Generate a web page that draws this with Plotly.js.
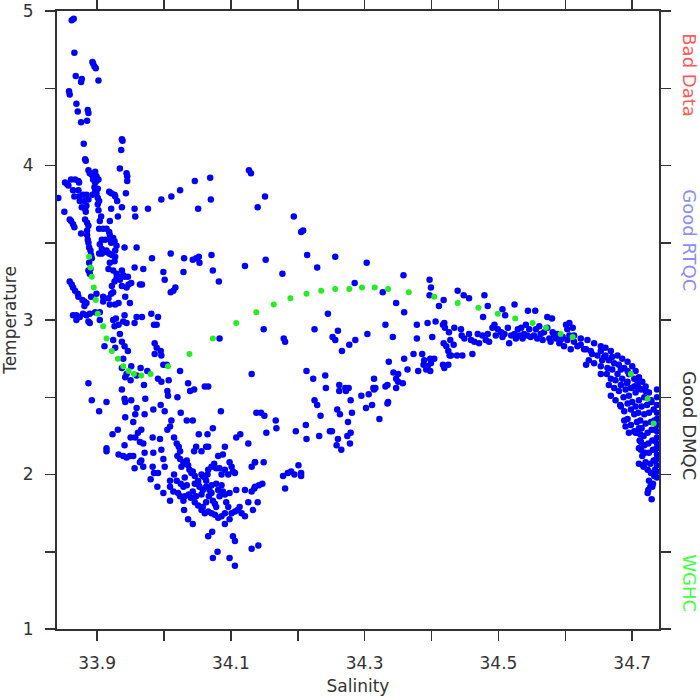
<!DOCTYPE html>
<html>
<head>
<meta charset="utf-8">
<script src="https://cdn.plot.ly/plotly-3.0.1.min.js"></script>
<style>html,body{margin:0;padding:0;background:#fff}#chart{width:700px;height:700px}</style>
</head>
<body>
<div id="chart"></div>
<script>
// ---- Data: [salinity, temperature] ----
const dmqcUpperLeft = [
[33.862,4.94],[33.865,4.95],[33.866,4.73],[33.893,4.67],[33.894,4.66],[33.896,4.64],[33.898,4.63],[33.868,4.58],[33.877,4.56],[33.876,4.54],[33.902,4.55],[33.858,4.48],[33.859,4.46],[33.869,4.40],[33.871,4.35],[33.886,4.36],[33.887,4.34],[33.885,4.29],[33.876,4.28],[33.880,4.14],[33.937,4.17],[33.938,4.16],[33.936,4.10],[33.882,4.04],[33.883,4.03],[33.934,3.98],[33.944,3.95],[33.945,3.93],[33.945,3.90],
[33.887,3.97],[33.889,3.95],[33.892,3.94],[33.897,3.96],[33.899,3.93],[33.894,3.91],[33.897,3.89],[33.899,3.90],[33.902,3.91],[33.896,3.86],[33.901,3.85],[33.897,3.83],[33.893,3.81],[33.899,3.82],
[33.842,3.79],[33.852,3.89],[33.855,3.88],[33.857,3.87],[33.861,3.91],[33.867,3.91],[33.872,3.90],[33.873,3.89],[33.864,3.84],[33.872,3.84],[33.866,3.80],[33.873,3.80],[33.879,3.81],[33.884,3.81],[33.881,3.77],[33.874,3.77],[33.877,3.73],[33.882,3.72],[33.884,3.74],[33.887,3.78],[33.901,3.79],[33.903,3.77],[33.901,3.75],[33.851,3.70],[33.883,3.70],[33.882,3.65],[33.859,3.65],[33.861,3.64],[33.864,3.62],[33.866,3.60],[33.876,3.56],
[33.885,3.63],[33.887,3.61],[33.885,3.58],[33.885,3.55],[33.886,3.52],[33.887,3.50],[33.888,3.47],[33.890,3.45],[33.891,3.42],[33.892,3.40],[33.888,3.37],[33.890,3.33],[33.887,3.32],[33.889,3.30],[33.904,3.64],[33.902,3.71],[33.906,3.67],
[33.918,3.83],[33.921,3.82],[33.926,3.81],[33.927,3.80],[33.930,3.77],[33.943,3.82],[33.921,3.72],[33.931,3.67],[33.937,3.73],[33.919,3.64],[33.956,3.72],[33.957,3.67],[33.976,3.72],[33.996,3.78],[34.011,3.80],[34.024,3.84],[34.046,3.90],[34.069,3.92],[34.070,3.78],[34.051,3.72],[34.127,3.97],[34.130,3.95]
];
const dmqcMidLeft = [
[33.903,3.59],[33.909,3.59],[33.914,3.59],[33.918,3.57],[33.919,3.55],[33.921,3.52],[33.924,3.53],[33.926,3.51],[33.921,3.50],[33.912,3.52],[33.907,3.52],[33.904,3.49],[33.907,3.46],[33.903,3.43],[33.907,3.43],[33.911,3.44],[33.914,3.45],[33.918,3.43],[33.922,3.42],[33.927,3.45],[33.929,3.48],[33.927,3.41],[33.926,3.38],[33.919,3.37],[33.917,3.33],[33.924,3.32],[33.929,3.30],[33.931,3.28],[33.934,3.26],[33.929,3.27],[33.926,3.25],[33.937,3.32],[33.939,3.29],[33.941,3.28],[33.946,3.28],[33.947,3.23],[33.944,3.21],[33.951,3.24],[33.956,3.34],[33.969,3.33],[33.964,3.23],[33.967,3.23],[33.941,3.47],[33.959,3.47],[33.982,3.40],[33.999,3.31],[34.001,3.26],[34.010,3.18],[34.014,3.19],[34.017,3.21],[34.029,3.31],[34.030,3.40],[34.010,3.43],[34.043,3.39],[34.048,3.40],[34.052,3.41],[34.053,3.37],[34.071,3.42],[34.073,3.32],[34.082,3.25],[34.121,3.35],
[33.859,3.25],[33.862,3.23],[33.864,3.21],[33.867,3.19],[33.871,3.17],[33.872,3.15],[33.891,3.15],[33.899,3.17],[33.904,3.05],[33.909,3.15],[33.909,3.12],[33.917,3.14],[33.921,3.17],[33.922,3.22],[33.924,3.18],[33.919,3.10],[33.927,3.10],[33.932,3.11],[33.942,3.15],[33.937,3.22],[33.949,3.11],[33.881,3.12],[33.881,3.09],[33.884,3.11],[33.878,3.13],[33.864,3.03],[33.869,3.03],[33.874,3.02],[33.879,3.04],[33.884,3.03],[33.889,3.04],[33.897,3.05],[33.928,3.01],[33.941,3.03],[33.959,3.02],[33.967,3.02],[33.981,3.04],[33.991,3.02]
];
const dmqcLowerLeft = [
[33.869,3.00],[33.887,2.99],[33.889,2.98],[33.904,3.00],[33.924,3.00],[33.932,2.97],[33.939,2.99],[33.944,2.98],[33.956,2.98],[33.985,2.97],[33.989,2.97],
[33.926,2.96],[33.934,2.91],[33.924,2.87],[33.927,2.82],[33.911,2.83],[33.937,2.86],[33.941,2.83],[33.946,2.80],[33.939,2.75],[33.937,2.69],[33.944,2.65],[33.951,2.70],[33.965,2.69],[33.975,2.67],[33.942,2.63],[33.950,2.61],[33.959,2.64],[33.970,2.58],
[33.986,2.85],[33.989,2.82],[33.986,2.78],[33.995,2.80],[33.996,2.77],[33.999,2.71],[34.004,2.71],[33.991,2.62],[33.996,2.60],[34.007,2.61],[34.005,2.54],[34.006,2.51],[34.024,2.67],[34.036,2.59],[34.039,2.54],[34.045,2.55],[34.061,2.57],[34.066,2.57],[34.083,2.88],[34.131,2.65],
[33.887,2.59],[33.892,2.48],[33.914,2.47],[33.903,2.41],[33.937,2.55],[33.941,2.49],[33.942,2.47],[33.951,2.48],[33.959,2.43],[33.957,2.39],[33.954,2.34],[33.942,2.37],[33.972,2.49],[33.971,2.39],[33.984,2.42],[33.995,2.45],[34.001,2.41],[34.020,2.50],[34.025,2.40],[34.011,2.35],[34.009,2.31],[34.005,2.29],[34.034,2.35],[34.043,2.35],[34.085,2.41],[34.073,2.30],[34.052,2.26],[34.065,2.26],[34.108,2.24],[34.114,2.26],[34.126,2.20],[34.131,2.05],[34.136,2.08],
[33.931,2.29],[33.923,2.26],[33.914,2.17],[33.914,2.15],[33.941,2.19],[33.950,2.24],[33.957,2.24],[33.961,2.27],[33.966,2.29],[33.964,2.21],[33.969,2.20],[33.971,2.14],[33.932,2.13],[33.939,2.12],[33.944,2.11],[33.949,2.12],[33.954,2.12],[33.956,2.04],[33.966,2.09],[33.969,2.05],[33.964,2.08],
[33.983,2.24],[33.984,2.14],[33.983,2.05],[33.985,2.01],[33.991,2.01],[33.994,2.23],[33.996,2.16],[33.999,2.10],[34.001,2.05],[33.980,1.97],[33.990,1.92],[33.999,1.88],[34.009,1.96],[34.009,1.92],[34.009,1.83],[34.014,1.89],[34.015,2.00],[34.019,1.96],
[34.015,2.24],[34.019,2.20],[34.022,2.18],[34.024,2.15],[34.020,2.12],[34.024,2.10],[34.026,2.05],[34.029,2.08],[34.031,2.07],[34.034,2.09],[34.036,2.06],[34.038,2.03],[34.041,2.01],[34.043,2.02],[34.046,1.99],[34.031,1.98],[34.029,1.92],[34.034,1.93],[34.025,1.94],[34.021,1.88],[34.024,1.86],[34.029,1.83],[34.031,1.86],[34.037,1.87],[34.040,1.85],[34.043,1.89],[34.046,1.94],[34.051,1.96],[34.056,2.00],[34.058,1.99],[34.061,1.98],[34.063,1.96],[34.065,2.00],[34.066,2.03],[34.071,2.05],[34.075,2.07],[34.078,2.04],[34.083,2.04],[34.086,2.00],[34.091,2.03],[34.096,2.00],[34.098,2.08],[34.101,2.05],[34.103,2.02],[34.106,2.01],
[34.081,2.12],[34.088,2.13],[34.091,2.18],[34.063,2.18],[34.066,2.18],[34.056,2.15],[34.048,2.18],[34.045,2.15],
[34.030,1.77],[34.036,1.71],[34.043,1.68],[34.051,1.80],[34.056,1.77],[34.058,1.79],[34.061,1.75],[34.063,1.82],[34.066,1.76],[34.068,1.90],[34.071,1.88],[34.073,1.83],[34.076,1.81],[34.078,1.79],[34.081,1.90],[34.083,1.86],[34.086,1.93],[34.088,1.89],[34.091,1.87],[34.093,1.82],[34.096,1.79],[34.098,1.88],[34.091,1.75],[34.086,1.73],[34.081,1.72],[34.076,1.74],[34.071,1.75],[34.091,1.68],[34.098,1.71],[34.101,1.75],[34.106,1.76],[34.110,1.77],[34.113,1.79],[34.116,1.75],[34.121,1.73],[34.126,1.82],[34.131,1.89],[34.135,1.91],[34.133,1.77],[34.108,1.90],[34.121,1.90],
[34.066,1.60],[34.072,1.63],[34.080,1.50],[34.073,1.46],[34.098,1.46],[34.106,1.41],[34.103,1.60],[34.106,1.57],[34.131,1.52],
[34.051,1.94],[34.053,1.92],[34.056,1.87],[34.058,1.90],[34.046,1.82],[34.048,1.86],[34.063,1.92],[34.071,1.93],[34.078,1.94],[34.067,1.86]
];
const dmqcMiddle = [
[34.151,3.80],[34.140,3.73],[34.194,3.67],[34.205,3.57],[34.208,3.58],[34.152,3.39],[34.214,3.42],[34.229,3.34],[34.256,3.41],[34.177,3.30],[34.303,3.37],[34.285,3.24],[34.327,3.18],[34.358,3.29],[34.347,3.11],[34.359,3.05],[34.245,3.04],[34.397,3.26],[34.399,3.21],[34.397,3.16],[34.411,3.09],[34.418,3.13],
[34.439,3.19],[34.448,3.16],[34.456,3.14],[34.479,3.16],[34.484,3.09],[34.477,3.02],[34.506,3.07],[34.510,3.03],[34.524,3.10],[34.544,3.06],[34.555,3.06],[34.573,3.02],[34.580,3.01],
[34.149,2.94],[34.179,2.88],[34.181,2.86],[34.225,2.94],[34.260,2.93],[34.252,2.89],[34.256,2.87],[34.266,2.80],[34.277,2.84],[34.286,2.87],[34.304,2.91],[34.331,2.97],[34.342,2.89],[34.336,2.73],[34.378,2.97],[34.394,2.98],[34.406,2.99],[34.417,2.97],[34.419,2.98],[34.420,2.95],[34.426,2.92],[34.378,2.88],[34.401,2.89],
[34.418,2.85],[34.422,2.83],[34.428,2.87],[34.433,2.84],[34.425,2.80],[34.429,2.77],[34.427,2.77],[34.373,2.78],[34.386,2.78],[34.389,2.74],[34.398,2.75],[34.404,2.75],[34.388,2.71],[34.394,2.70],[34.399,2.72],[34.392,2.68],[34.398,2.67],[34.380,2.67],[34.364,2.68],[34.359,2.75],[34.417,2.71],[34.419,2.69],[34.425,2.71],
[34.213,2.67],[34.223,2.62],[34.241,2.64],[34.242,2.56],[34.262,2.58],[34.262,2.54],[34.271,2.56],[34.272,2.54],[34.276,2.56],[34.295,2.51],[34.306,2.52],[34.314,2.62],[34.313,2.56],[34.316,2.56],[34.314,2.55],[34.331,2.57],[34.334,2.58],[34.343,2.66],[34.350,2.65],[34.347,2.62],[34.350,2.60],[34.357,2.59],[34.347,2.56],[34.335,2.47],[34.334,2.46],
[34.225,2.48],[34.229,2.45],[34.259,2.42],[34.263,2.39],[34.279,2.48],[34.281,2.40],[34.302,2.43],[34.311,2.45],[34.322,2.36],[34.234,2.38],[34.275,2.34],[34.212,2.32],[34.197,2.28],[34.213,2.23],[34.232,2.25],[34.248,2.28],[34.251,2.28],[34.260,2.23],[34.274,2.25],[34.279,2.27],[34.258,2.19],[34.265,2.16],[34.278,2.20],
[34.138,2.40],[34.145,2.40],[34.150,2.38],[34.167,2.35],[34.168,2.30],[34.153,2.27],[34.136,2.08],[34.149,2.08],[34.178,1.99],[34.185,2.01],[34.190,2.02],[34.195,2.00],[34.201,2.06],[34.205,2.01],[34.205,1.99],[34.181,1.91],[34.136,1.92],[34.142,1.93],[34.147,1.94],[34.140,1.82],[34.141,1.54]
];
const dmqcArc = [
[34.434,2.95],[34.444,2.94],[34.445,2.90],[34.449,2.88],[34.456,2.91],[34.459,2.87],[34.464,2.86],[34.469,2.91],[34.471,2.85],[34.476,2.90],[34.481,2.87],[34.484,2.91],[34.486,2.86],[34.491,2.95],[34.494,2.97],[34.496,2.90],[34.499,2.94],[34.504,2.92],[34.506,2.89],[34.509,2.91],[34.514,2.95],[34.516,2.85],[34.519,2.90],[34.524,2.91],[34.526,2.88],[34.529,2.94],[34.531,2.90],[34.534,2.95],[34.536,2.88],[34.538,2.91],[34.541,2.97],[34.543,2.90],[34.546,2.94],[34.548,2.89],[34.553,2.90],[34.556,2.94],[34.558,2.88],[34.561,2.96],[34.563,2.91],[34.566,2.87],[34.568,2.92],[34.573,2.95],[34.576,2.88],[34.578,2.86],[34.581,2.92],[34.583,2.90],[34.586,2.88],[34.588,2.91],[34.591,2.85],[34.593,2.87],[34.596,2.89],[34.598,2.83],[34.601,2.97],[34.603,2.87],[34.606,2.90],[34.608,2.81],[34.611,2.95],[34.613,2.86],[34.438,2.77],[34.446,2.77],[34.461,2.78],
[34.613,2.90],[34.623,2.88],[34.633,2.87],[34.643,2.85],[34.653,2.83],[34.660,2.82],[34.668,2.80],[34.678,2.77],[34.685,2.75],[34.693,2.73],[34.700,2.70],[34.705,2.67],[34.710,2.63],[34.715,2.60],[34.720,2.57],[34.725,2.53],[34.729,2.47],[34.732,2.42],[34.733,2.35],[34.734,2.29],[34.734,2.22],[34.734,2.16],[34.734,2.09],[34.734,2.03],
[34.618,2.83],[34.628,2.81],[34.638,2.80],[34.648,2.77],[34.658,2.76],[34.665,2.74],[34.673,2.72],[34.680,2.71],[34.688,2.69],[34.695,2.65],[34.703,2.62],[34.708,2.59],[34.713,2.55],[34.718,2.50],[34.722,2.45],[34.725,2.40],[34.728,2.34],[34.729,2.29],[34.730,2.22],[34.731,2.16],[34.732,2.09],[34.732,2.01],[34.731,1.94],
[34.631,2.71],[34.643,2.72],[34.653,2.70],[34.663,2.69],[34.670,2.68],[34.678,2.65],[34.685,2.62],[34.692,2.59],[34.698,2.56],[34.705,2.53],[34.710,2.48],[34.714,2.44],[34.718,2.39],[34.720,2.33],[34.723,2.27],[34.724,2.20],[34.725,2.14],[34.727,2.07],[34.728,2.01],[34.727,1.92],[34.723,1.88],[34.729,1.84],
[34.653,2.65],[34.662,2.65],[34.668,2.62],[34.675,2.61],[34.683,2.58],[34.690,2.55],[34.695,2.51],[34.700,2.47],[34.705,2.44],[34.709,2.40],[34.712,2.35],[34.714,2.30],[34.717,2.25],[34.718,2.19],[34.719,2.14],[34.720,2.08],[34.723,2.03],[34.725,1.96],[34.724,1.90],
[34.665,2.58],[34.673,2.56],[34.680,2.54],[34.687,2.50],[34.693,2.46],[34.698,2.42],[34.703,2.39],[34.707,2.34],[34.710,2.30],[34.712,2.26],[34.713,2.21],[34.713,2.16],[34.715,2.12],[34.717,2.05],
[34.668,2.51],[34.675,2.48],[34.682,2.45],[34.688,2.41],[34.693,2.36],[34.698,2.32],[34.703,2.28],[34.707,2.27],[34.711,2.22],[34.710,2.17],[34.710,2.07],[34.716,2.06],
[34.683,2.44],[34.688,2.35],[34.690,2.31],[34.695,2.27],[34.705,2.27],
[34.603,2.94],[34.606,2.98],[34.623,2.84],[34.631,2.81],[34.640,2.78],[34.635,2.74],[34.653,2.80],[34.655,2.74],[34.660,2.77],[34.670,2.76],[34.683,2.68],[34.693,2.67],[34.693,2.60],[34.703,2.57],[34.710,2.56],[34.720,2.54],[34.728,2.48],
[34.737,2.55],[34.737,2.50],[34.737,2.45],[34.737,2.40],[34.737,2.36],[34.737,2.32],[34.737,2.28],[34.737,2.24],[34.737,2.20],[34.737,2.17],[34.737,2.13],[34.737,2.10],[34.737,2.06],[34.737,2.02],[34.737,1.98],[34.730,1.92],[34.733,1.99]
];
const wghcSalinity = [33.888,33.890,33.892,33.895,33.898,33.901,33.909,33.914,33.922,33.931,33.939,33.947,33.955,33.966,33.980,34.006,34.038,34.073,34.108,34.138,34.164,34.189,34.213,34.235,34.256,34.277,34.296,34.315,34.335,34.366,34.404,34.439,34.470,34.499,34.525,34.551,34.571,34.593,34.611,34.698,34.723,34.732];
const wghcTemperature = [3.41,3.34,3.28,3.21,3.13,3.04,2.96,2.88,2.80,2.75,2.70,2.67,2.65,2.64,2.65,2.70,2.78,2.88,2.98,3.05,3.10,3.14,3.17,3.19,3.20,3.20,3.21,3.21,3.20,3.18,3.15,3.11,3.08,3.04,3.01,2.98,2.95,2.91,2.89,2.65,2.49,2.33];

const xTickVals = [33.9,34.0,34.1,34.2,34.3,34.4,34.5,34.6,34.7];
const xTickText = ['33.9','','34.1','','34.3','','34.5','','34.7'];
const yTickVals = [1,1.5,2,2.5,3,3.5,4,4.5,5];
const yTickText = ['1','','2','','3','','4','','5'];
const flagLabels = ['Bad Data','Good RTQC','Good DMQC','WGHC'];
const flagColors = ['#ff5a5a','#8c8cff','#333333','#44ff44'];

// ---- Build ----
const dmqc = [].concat(dmqcUpperLeft, dmqcMidLeft, dmqcLowerLeft, dmqcMiddle, dmqcArc);
const traces = [
  {type:'scatter', mode:'markers', x: dmqc.map(p=>p[0]), y: dmqc.map(p=>p[1]),
   marker:{color:'#0000ff', size:6.5, line:{width:0}}, hoverinfo:'skip'},
  {type:'scatter', mode:'markers', x: wghcSalinity, y: wghcTemperature,
   marker:{color:'#22ee22', size:6, line:{width:0}}, hoverinfo:'skip'}
];
const flagY = [0.896, 0.629, 0.330, 0.074];
const annotations = flagLabels.map((t,i)=>({
  text:t, xref:'paper', yref:'paper', x:1.0515, y:flagY[i], xanchor:'center', yanchor:'middle',
  textangle:90, showarrow:false, font:{family:'DejaVu Sans', size:18, color:flagColors[i]}
}));
const axisCommon = {showline:true, linecolor:'#333', linewidth:2, mirror:'ticks', ticks:'outside',
  ticklen:10, tickwidth:1.5, tickcolor:'#333', showgrid:false, zeroline:false,
  tickfont:{family:'DejaVu Sans', size:17, color:'#333'}, ticklabelstandoff:8};
const layout = {
  width:700, height:700, margin:{l:57, r:41, t:11, b:71, pad:0},
  paper_bgcolor:'#fff', plot_bgcolor:'#fff', showlegend:false,
  font:{family:'DejaVu Sans', color:'#333'},
  xaxis:Object.assign({}, axisCommon, {range:[33.84,34.74], tickmode:'array', tickvals:xTickVals, ticktext:xTickText,
    title:{text:'Salinity', font:{family:'DejaVu Sans', size:17, color:'#333'}, standoff:8}}),
  yaxis:Object.assign({}, axisCommon, {range:[1,5], tickmode:'array', tickvals:yTickVals, ticktext:yTickText,
    title:{text:'Temperature', font:{family:'DejaVu Sans', size:17, color:'#333'}, standoff:6}}),
  annotations: annotations
};
Plotly.newPlot('chart', traces, layout, {staticPlot:true});
</script>
</body>
</html>
